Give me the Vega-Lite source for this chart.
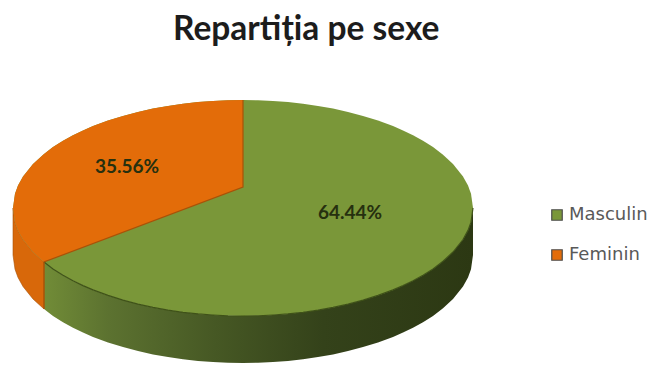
{
  "$schema": "https://vega.github.io/schema/vega-lite/v6.json",
  "width": 651,
  "height": 365,
  "padding": 0,
  "autosize": "none",
  "background": "white",
  "config": {"view": {"stroke": null}},
  "title": {
    "text": "Repartiția pe sexe",
    "orient": "top",
    "anchor": "start",
    "frame": "group",
    "offset": 0,
    "dx": 173,
    "dy": 47,
    "font": "Lato",
    "fontSize": 33.5,
    "fontWeight": "bold",
    "color": "#1c1c1c"
  },
  "resolve": {"scale": {"x": "shared", "y": "shared"}},
  "datasets": {
    "rim": [
      {"sex": "Masculin", "x": 13, "top": 208, "front": 208, "base": 255},
      {"sex": "Masculin", "x": 15, "top": 193.8, "front": 222.2, "base": 269.2},
      {"sex": "Masculin", "x": 18, "top": 185.6, "front": 230.4, "base": 277.4},
      {"sex": "Masculin", "x": 23, "top": 176.5, "front": 239.5, "base": 286.5},
      {"sex": "Masculin", "x": 33, "top": 164, "front": 252, "base": 299},
      {"sex": "Masculin", "x": 44, "top": 154, "front": 262, "base": 309},
      {"sex": "Masculin", "x": 53, "top": 147.1, "front": 268.9, "base": 315.9},
      {"sex": "Masculin", "x": 63, "top": 140.8, "front": 275.2, "base": 322.2},
      {"sex": "Masculin", "x": 73, "top": 135.2, "front": 280.8, "base": 327.8},
      {"sex": "Masculin", "x": 83, "top": 130.4, "front": 285.6, "base": 332.6},
      {"sex": "Masculin", "x": 93, "top": 126.1, "front": 289.9, "base": 336.9},
      {"sex": "Masculin", "x": 108, "top": 120.6, "front": 295.4, "base": 342.4},
      {"sex": "Masculin", "x": 123, "top": 115.9, "front": 300.1, "base": 347.1},
      {"sex": "Masculin", "x": 138, "top": 111.9, "front": 304.1, "base": 351.1},
      {"sex": "Masculin", "x": 153, "top": 108.6, "front": 307.4, "base": 354.4},
      {"sex": "Masculin", "x": 168, "top": 105.9, "front": 310.1, "base": 357.1},
      {"sex": "Masculin", "x": 183, "top": 103.7, "front": 312.3, "base": 359.3},
      {"sex": "Masculin", "x": 198, "top": 102.1, "front": 313.9, "base": 360.9},
      {"sex": "Masculin", "x": 213, "top": 101, "front": 315, "base": 362},
      {"sex": "Masculin", "x": 228, "top": 100.2, "front": 315.8, "base": 362.8},
      {"sex": "Masculin", "x": 243, "top": 100, "front": 316, "base": 363},
      {"sex": "Masculin", "x": 258, "top": 100.2, "front": 315.8, "base": 362.8},
      {"sex": "Masculin", "x": 273, "top": 101, "front": 315, "base": 362},
      {"sex": "Masculin", "x": 288, "top": 102.1, "front": 313.9, "base": 360.9},
      {"sex": "Masculin", "x": 303, "top": 103.7, "front": 312.3, "base": 359.3},
      {"sex": "Masculin", "x": 318, "top": 105.9, "front": 310.1, "base": 357.1},
      {"sex": "Masculin", "x": 333, "top": 108.6, "front": 307.4, "base": 354.4},
      {"sex": "Masculin", "x": 348, "top": 111.9, "front": 304.1, "base": 351.1},
      {"sex": "Masculin", "x": 363, "top": 115.9, "front": 300.1, "base": 347.1},
      {"sex": "Masculin", "x": 378, "top": 120.6, "front": 295.4, "base": 342.4},
      {"sex": "Masculin", "x": 393, "top": 126.1, "front": 289.9, "base": 336.9},
      {"sex": "Masculin", "x": 403, "top": 130.4, "front": 285.6, "base": 332.6},
      {"sex": "Masculin", "x": 413, "top": 135.2, "front": 280.8, "base": 327.8},
      {"sex": "Masculin", "x": 423, "top": 140.8, "front": 275.2, "base": 322.2},
      {"sex": "Masculin", "x": 433, "top": 147.1, "front": 268.9, "base": 315.9},
      {"sex": "Masculin", "x": 443, "top": 154.7, "front": 261.3, "base": 308.3},
      {"sex": "Masculin", "x": 453, "top": 164, "front": 252, "base": 299},
      {"sex": "Masculin", "x": 463, "top": 176.5, "front": 239.5, "base": 286.5},
      {"sex": "Masculin", "x": 468, "top": 185.6, "front": 230.4, "base": 277.4},
      {"sex": "Masculin", "x": 471, "top": 193.8, "front": 222.2, "base": 269.2},
      {"sex": "Masculin", "x": 473, "top": 208, "front": 208, "base": 255}
    ],
    "wedge": [
      {"sex": "Feminin", "x": 13, "top": 208, "bottom": 208},
      {"sex": "Feminin", "x": 15, "top": 193.8, "bottom": 222.2},
      {"sex": "Feminin", "x": 18, "top": 185.6, "bottom": 230.4},
      {"sex": "Feminin", "x": 23, "top": 176.5, "bottom": 239.5},
      {"sex": "Feminin", "x": 33, "top": 164, "bottom": 252},
      {"sex": "Feminin", "x": 44, "top": 154, "bottom": 262},
      {"sex": "Feminin", "x": 53, "top": 147.1, "bottom": 258.6},
      {"sex": "Feminin", "x": 63, "top": 140.8, "bottom": 254.8},
      {"sex": "Feminin", "x": 73, "top": 135.2, "bottom": 251.1},
      {"sex": "Feminin", "x": 83, "top": 130.4, "bottom": 247.3},
      {"sex": "Feminin", "x": 93, "top": 126.1, "bottom": 243.5},
      {"sex": "Feminin", "x": 108, "top": 120.6, "bottom": 237.9},
      {"sex": "Feminin", "x": 123, "top": 115.9, "bottom": 232.2},
      {"sex": "Feminin", "x": 138, "top": 111.9, "bottom": 226.6},
      {"sex": "Feminin", "x": 153, "top": 108.6, "bottom": 220.9},
      {"sex": "Feminin", "x": 168, "top": 105.9, "bottom": 215.3},
      {"sex": "Feminin", "x": 183, "top": 103.7, "bottom": 209.6},
      {"sex": "Feminin", "x": 198, "top": 102.1, "bottom": 204},
      {"sex": "Feminin", "x": 213, "top": 101, "bottom": 198.3},
      {"sex": "Feminin", "x": 228, "top": 100.2, "bottom": 192.7},
      {"sex": "Feminin", "x": 243, "top": 100, "bottom": 187}
    ],
    "seams": [
      {"edge": "cut", "order": 1, "x": 243, "y": 100},
      {"edge": "cut", "order": 2, "x": 243, "y": 187},
      {"edge": "cut", "order": 3, "x": 44, "y": 262},
      {"edge": "cut", "order": 4, "x": 44, "y": 309}
    ],
    "shares": [
      {"sex": "Masculin", "share": 0.6444, "x": 350, "y": 213},
      {"sex": "Feminin", "share": 0.3556, "x": 127, "y": 167}
    ]
  },
  "encoding": {
    "x": {"field": "x", "type": "quantitative", "scale": {"domain": [0, 651], "nice": false}, "axis": null}
  },
  "layer": [
    {
      "description": "Side wall of the larger slice, shaded from the lit left end to the dark right end",
      "data": {"name": "rim"},
      "transform": [{"filter": "datum.x >= 44"}],
      "mark": {
        "type": "area",
        "color": {
          "gradient": "linear",
          "x1": 0, "y1": 0, "x2": 1, "y2": 0,
          "stops": [
            {"offset": 0, "color": "#718c37"},
            {"offset": 0.15, "color": "#5c7230"},
            {"offset": 0.4, "color": "#465824"},
            {"offset": 0.65, "color": "#34421a"},
            {"offset": 1, "color": "#2c3813"}
          ]
        }
      },
      "encoding": {
        "y": {"field": "front", "type": "quantitative", "scale": {"domain": [365, 0], "nice": false}, "axis": null},
        "y2": {"field": "base"}
      }
    },
    {
      "description": "Side wall of the smaller slice",
      "data": {"name": "rim"},
      "transform": [{"filter": "datum.x <= 44"}],
      "mark": {"type": "area", "color": "#d8680a", "stroke": "#a85208", "strokeWidth": 0.6},
      "encoding": {
        "y": {"field": "front", "type": "quantitative", "axis": null},
        "y2": {"field": "base"}
      }
    },
    {
      "description": "Top face: whole ellipse in the larger slice colour",
      "data": {"name": "rim"},
      "mark": {"type": "area"},
      "encoding": {
        "y": {"field": "top", "type": "quantitative", "axis": null},
        "y2": {"field": "front"},
        "color": {
          "field": "sex",
          "type": "nominal",
          "scale": {"domain": ["Masculin", "Feminin"], "range": ["#7a9739", "#e36c09"]},
          "legend": {
            "title": null,
            "orient": "none",
            "legendX": 548,
            "legendY": 206,
            "symbolType": "square",
            "symbolSize": 110,
            "symbolStrokeColor": "#4d4d4d",
            "symbolStrokeWidth": 1.2,
            "labelFont": "DejaVu Sans",
            "labelFontSize": 18,
            "labelColor": "#595959",
            "labelOffset": 3,
            "rowPadding": 22
          }
        }
      }
    },
    {
      "description": "Top face of the smaller slice",
      "data": {"name": "wedge"},
      "mark": {"type": "area"},
      "encoding": {
        "y": {"field": "top", "type": "quantitative", "axis": null},
        "y2": {"field": "bottom"},
        "color": {"field": "sex", "type": "nominal"}
      }
    },
    {
      "description": "Dark edge where the top face meets the larger wall",
      "data": {"name": "rim"},
      "transform": [{"filter": "datum.x >= 44"}],
      "mark": {"type": "line", "color": "#3f5218", "strokeWidth": 1.2},
      "encoding": {
        "y": {"field": "front", "type": "quantitative", "axis": null}
      }
    },
    {
      "description": "Cut lines between the two slices",
      "data": {"name": "seams"},
      "mark": {"type": "line", "color": "#a85208", "strokeWidth": 1.2},
      "encoding": {
        "y": {"field": "y", "type": "quantitative", "axis": null},
        "order": {"field": "order", "type": "ordinal"}
      }
    },
    {
      "description": "Percentage labels",
      "data": {"name": "shares"},
      "mark": {
        "type": "text",
        "font": "Lato",
        "fontSize": 19,
        "fontWeight": "bold",
        "color": "#26300f",
        "align": "center",
        "baseline": "middle"
      },
      "encoding": {
        "y": {"field": "y", "type": "quantitative", "axis": null},
        "text": {"field": "share", "type": "quantitative", "format": ".2%"}
      }
    }
  ]
}
